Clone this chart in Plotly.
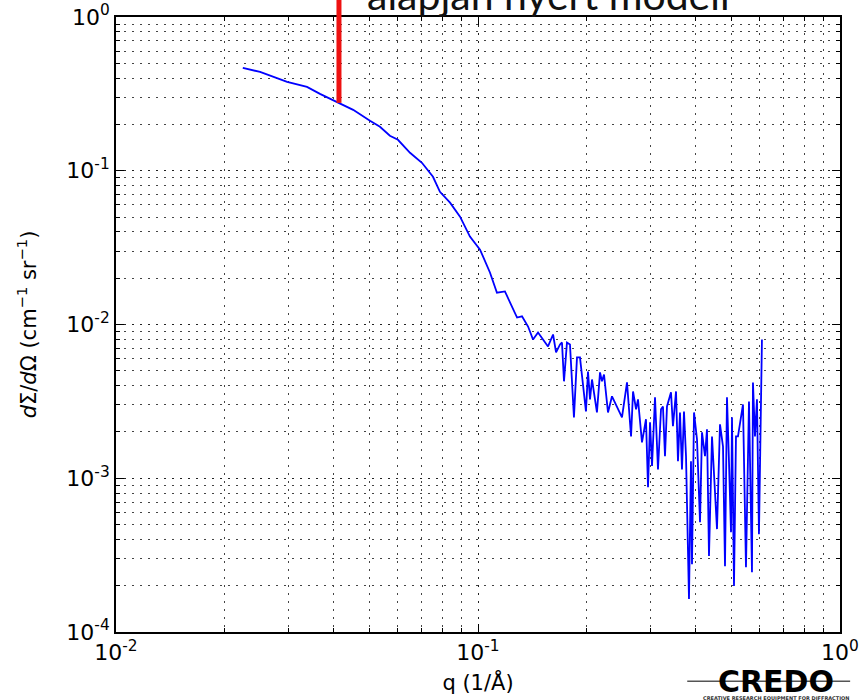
import numpy as np
import plotly.graph_objects as go

# ---- data ----
q_values = [
    0.0224, 0.0250, 0.0297, 0.0337, 0.0366, 0.0413, 0.0452, 0.0503, 0.0536, 0.0571,
    0.0601, 0.0649, 0.0700, 0.0751, 0.0785, 0.0837, 0.0892, 0.0950, 0.1013, 0.1079,
    0.1128, 0.1187, 0.1226, 0.1282, 0.1323, 0.1375, 0.1419, 0.1465,
    0.1561, 0.1612, 0.1643, 0.1685, 0.1706, 0.1728, 0.1761, 0.1795, 0.1841, 0.1877,
    0.1913, 0.1987, 0.2013, 0.2039, 0.2065, 0.2091, 0.2131, 0.2173, 0.2200, 0.2229,
    0.2286, 0.2345, 0.2421, 0.2499, 0.2580, 0.2647, 0.2681, 0.2733, 0.2767, 0.2838,
    0.2911, 0.2949,
    0.2987, 0.3025, 0.3083, 0.3142, 0.3203, 0.3243, 0.3285, 0.3327, 0.3413, 0.3456,
    0.3524, 0.3568, 0.3614, 0.3660, 0.3707, 0.3755, 0.3827, 0.3876, 0.3901, 0.3951,
    0.4027, 0.4105, 0.4157, 0.4237, 0.4291, 0.4346, 0.4430, 0.4458, 0.4573, 0.4661,
    0.4751, 0.4812, 0.4873, 0.4936, 0.4999, 0.5031, 0.5095, 0.5160, 0.5226, 0.5395,
    0.5499, 0.5605, 0.5713, 0.5749, 0.5823, 0.5897, 0.5972, 0.6087,
]
intensity = [
    0.4665, 0.4394, 0.3784, 0.3512, 0.3162, 0.2764, 0.2489, 0.2112, 0.1931, 0.1688,
    0.1590, 0.1309, 0.1127, 0.0914, 0.0730, 0.0620, 0.0503, 0.0373, 0.0307, 0.0218,
    0.0161, 0.0164, 0.0139, 0.0111, 0.0113, 0.00970, 0.00799, 0.00887,
    0.00720, 0.00861, 0.00658, 0.00742, 0.00764, 0.00427, 0.00764, 0.00742, 0.00249, 0.00611,
    0.00611, 0.00272, 0.00495, 0.00326, 0.00439, 0.00362, 0.00268, 0.00488, 0.00427, 0.00473,
    0.00268, 0.00341, 0.00293, 0.00249, 0.00420, 0.00187, 0.00367, 0.00281, 0.00326, 0.00171,
    0.00242, 0.000874,
    0.00231, 0.00120, 0.00336, 0.00114, 0.00281, 0.00293, 0.00139, 0.00293, 0.00362, 0.00218,
    0.00367, 0.00129, 0.00268, 0.00114, 0.00272, 0.00139, 0.000164, 0.00129, 0.000276, 0.00268,
    0.00179, 0.000518, 0.00199, 0.00139, 0.00208, 0.000312, 0.00187, 0.00139, 0.000467, 0.00224,
    0.00161, 0.000268, 0.00336, 0.00127, 0.000446, 0.00249, 0.000199, 0.00187, 0.00187, 0.00302,
    0.000264, 0.00316, 0.000245, 0.00420, 0.00187, 0.00326, 0.000433, 0.00799,
]
marker_q = 0.0413
marker_I = 0.2764

x_tickvals = [1e-2, 1e-1, 1e0]
x_ticktext = ["10<sup>-2</sup>", "10<sup>-1</sup>", "10<sup>0</sup>"]
y_tickvals = [1e-4, 1e-3, 1e-2, 1e-1, 1e0]
y_ticktext = ["10<sup>-4</sup>", "10<sup>-3</sup>", "10<sup>-2</sup>", "10<sup>-1</sup>", "10<sup>0</sup>"]

x_minor = [m * 10.0 ** e for e in (-2, -1) for m in range(2, 10)]
y_minor = [m * 10.0 ** e for e in (-4, -3, -2, -1) for m in range(2, 10)]

title_text = "alapján nyert modell"
x_title = "q (1/Å)"
y_title = "<i>d</i>Σ/<i>d</i>Ω (cm<sup>−1</sup> sr<sup>−1</sup>)"

FONT = "DejaVu Sans"

fig = go.Figure()
fig.add_trace(go.Scatter(
    x=q_values, y=intensity, mode="lines",
    line=dict(color="#0000ff", width=1.8),
    showlegend=False, hoverinfo="skip",
))

axis_common = dict(
    type="log",
    showline=True, mirror="allticks", linecolor="black", linewidth=1.8,
    ticks="inside", ticklen=8, tickwidth=1, tickcolor="black",
    showgrid=True, gridcolor="#222222", gridwidth=1, griddash="2px,6px",
    zeroline=False,
    tickfont=dict(family=FONT, size=22, color="black"),
)

fig.update_xaxes(
    **axis_common,
    range=[-2, 0],
    tickmode="array", tickvals=x_tickvals, ticktext=x_ticktext,
    minor=dict(tickmode="array", tickvals=x_minor, ticks="inside", ticklen=4,
               tickcolor="black", showgrid=True, gridcolor="#444444",
               gridwidth=1, griddash="2px,6px"),
    title=dict(text=x_title, font=dict(family=FONT, size=21, color="black"), standoff=11),
)
fig.update_yaxes(
    **axis_common,
    range=[-4, 0],
    tickmode="array", tickvals=y_tickvals, ticktext=y_ticktext,
    minor=dict(tickmode="array", tickvals=y_minor, ticks="inside", ticklen=4,
               tickcolor="black", showgrid=True, gridcolor="#444444",
               gridwidth=1, griddash="2px,6px"),
    title=dict(text=y_title, font=dict(family=FONT, size=21, color="black"), standoff=24),
)

# red vertical marker line from the curve point up past the top of the plot
y_min_log, y_max_log = -4.0, 0.0
marker_paper = (np.log10(marker_I) - y_min_log) / (y_max_log - y_min_log)
fig.add_shape(type="line", xref="x", yref="paper",
              x0=marker_q, x1=marker_q, y0=marker_paper, y1=1.05,
              line=dict(color="#ee1111", width=5), layer="above")

# cropped heading text at the top
fig.add_annotation(text=title_text, xref="paper", yref="paper",
                   x=0.598, y=1.037, xanchor="center", yanchor="middle",
                   showarrow=False, font=dict(family="Lato", size=41, color="#111111"))

# CREDO logo
fig.add_annotation(text="<b>CREDO</b>", xref="paper", yref="paper",
                   x=0.912, y=-0.08, xanchor="center", yanchor="middle",
                   showarrow=False, font=dict(family=FONT, size=30, color="black"))
fig.add_shape(type="line", xref="paper", yref="paper",
              x0=0.789, x1=1.014, y0=-0.08, y1=-0.08,
              line=dict(color="#555555", width=1.5), layer="above")
fig.add_annotation(text="<b>CREATIVE RESEARCH EQUIPMENT FOR DIFFRACTION</b>",
                   xref="paper", yref="paper",
                   x=0.912, y=-0.107, xanchor="center", yanchor="middle",
                   showarrow=False, font=dict(family=FONT, size=5, color="#333333"))

fig.update_layout(
    width=864, height=700,
    margin=dict(l=116, r=24, t=17, b=68, autoexpand=False),
    plot_bgcolor="white", paper_bgcolor="white",
    showlegend=False,
)

fig.write_html("out.html")
